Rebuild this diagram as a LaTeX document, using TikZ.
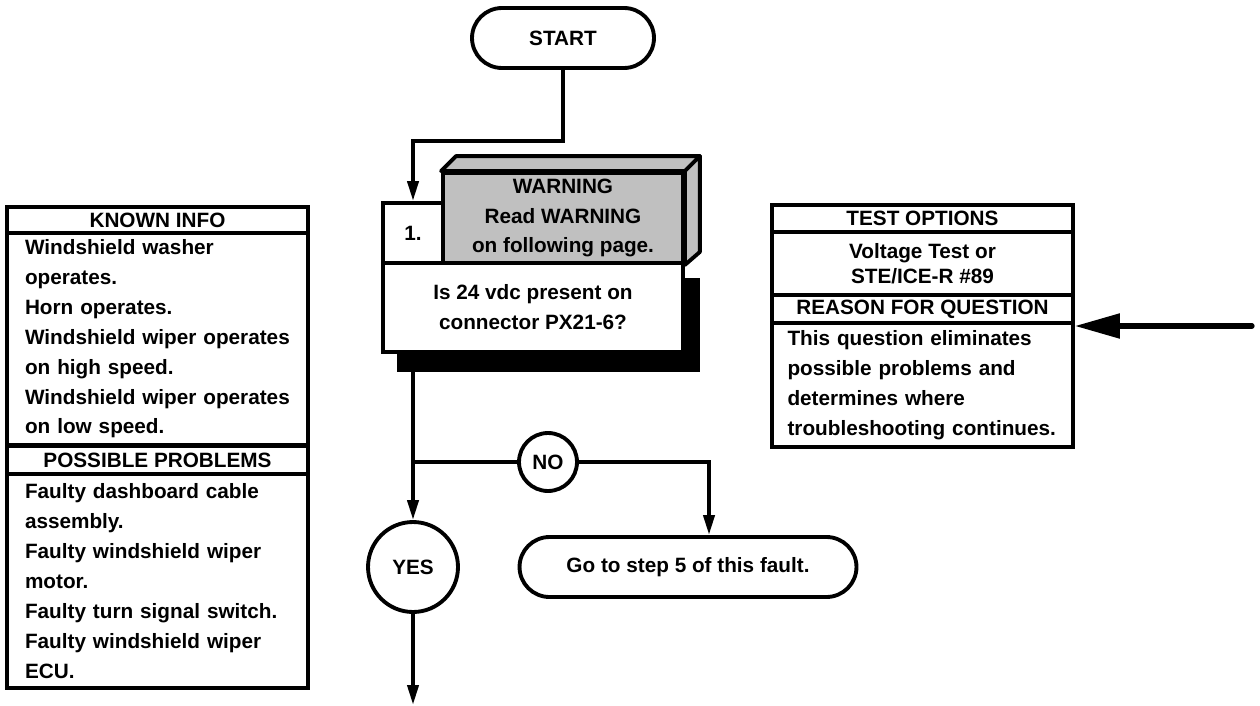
\documentclass[tikz,border=0pt]{standalone}
\usepackage{fontspec}
\setmainfont{Liberation Sans}
\usetikzlibrary{arrows.meta, calc, shapes.geometric}
\definecolor{WarnGray}{RGB}{192,192,192}

\begin{document}
\begin{tikzpicture}[x=0.02cm, y=-0.02cm, font=\bfseries\fontsize{11.8}{17}\selectfont]
    \tikzset{
        pill/.style={rectangle, rounded corners=0.6cm, draw, line width=2.2pt,
            fill=white, minimum height=1.2cm, align=center},
        stepbox/.style={rectangle, draw, line width=2.2pt, fill=white,
            minimum width=1.2cm, minimum height=1.2cm, inner sep=0pt},
        warnbox/.style={rectangle, draw, line width=2.2pt, fill=WarnGray,
            minimum width=4.8cm, minimum height=1.8cm, inner sep=0pt, align=center},
        askbox/.style={rectangle, draw, line width=2.2pt, fill=white,
            minimum width=6cm, minimum height=1.78cm, inner sep=0pt, align=center},
        answer/.style={circle, draw, line width=2.2pt, fill=white, inner sep=0pt},
        headrow/.style={rectangle, draw, line width=2.2pt, minimum width=6.02cm,
            inner sep=0pt, align=center},
        listrow/.style={rectangle, draw, line width=2.2pt, text width=5.3cm,
            inner xsep=0.36cm, inner ysep=0pt, align=left},
        flow/.style={line width=2.2pt, -{Triangle[length=0.4cm, width=0.22cm]}},
        line/.style={line width=2.2pt}
    }
    \useasboundingbox (0,0) rectangle (1260,706);
    % start and step 1
    \node[pill, minimum width=3.64cm] (start) at (563,38) {START};
    \fill (397,278) rectangle (700,372);
    \node[askbox] (ask) at (533,307.5) {Is 24 vdc present on\\connector PX21-6?};
    \node[warnbox] (warn) at (563,218) {WARNING\\Read WARNING\\on following page.};
    \filldraw[line width=2.2pt, fill=WarnGray, line join=round]
        (warn.north west) -- ++(15,-15) -- ($(warn.north east)+(15,-15)$)
        -- (warn.north east) -- cycle;
    \filldraw[line width=2.2pt, fill=WarnGray, line join=round]
        (warn.north east) -- ++(15,-15) -- ($(warn.south east)+(15,-13)$)
        -- (warn.south east) -- cycle;
    \node[stepbox] (num) at (413,233) {1.};
    \draw[flow] (start.south) |- ($(num.north)+(0,-60)$) -- (num.north);
    % answers
    \coordinate (split) at (413,462);
    \coordinate (yesout) at (413,705);
    \node[answer, minimum size=1.8cm] (yes) at (413,567) {YES};
    \node[answer, minimum size=1.16cm] (no) at (548,462) {NO};
    \node[pill, minimum width=6.74cm] (goto) at (688,567) {Go to step 5 of this fault.};
    \draw[line] (split |- ask.south) -- (split);
    \draw[flow] (split) -- (yes);
    \draw[line] (split) -- (no);
    \draw[flow] (no) -| ($(goto.north)+(21,0)$);
    \draw[flow] (yes) -- (yesout);
    % known info / possible problems
    \node[headrow, minimum height=0.52cm] (known) at (157.5,220) {KNOWN INFO};
    \node[listrow, minimum height=4.24cm] (knownlist) at (157.5,339)
        {Windshield washer\\operates.\\Horn operates.\\Windshield wiper operates\\on high speed.\\Windshield wiper operates\\on low speed.};
    \node[headrow, minimum height=0.56cm] (probs) at (157.5,460) {POSSIBLE PROBLEMS};
    \node[listrow, minimum height=4.28cm] (probslist) at (157.5,581)
        {Faulty dashboard cable\\assembly.\\Faulty windshield wiper\\motor.\\Faulty turn signal switch.\\Faulty windshield wiper\\ECU.};
    % test options / reason
    \node[headrow, minimum height=0.54cm] (tests) at (922.5,218.5) {TEST OPTIONS};
    \node[headrow, minimum height=1.26cm, font=\bfseries\fontsize{11.8}{14.5}\selectfont]
        (testslist) at (922.5,263.5) {Voltage Test or\\STE/ICE-R \#89};
    \node[headrow, minimum height=0.56cm] (reason) at (922.5,309) {REASON FOR QUESTION};
    \node[listrow, minimum height=2.48cm, text width=5.4cm, inner xsep=0.31cm]
        (reasonlist) at (922.5,385)
        {This question eliminates\\possible problems and\\determines where\\troubleshooting continues.};
    \coordinate (reasonin) at (1252,326);
    \draw[line width=3pt, line cap=round, -{Triangle[length=0.9cm, width=0.48cm]}]
        (reasonin) -- (reasonin -| reasonlist.east);
\end{tikzpicture}
\end{document}
